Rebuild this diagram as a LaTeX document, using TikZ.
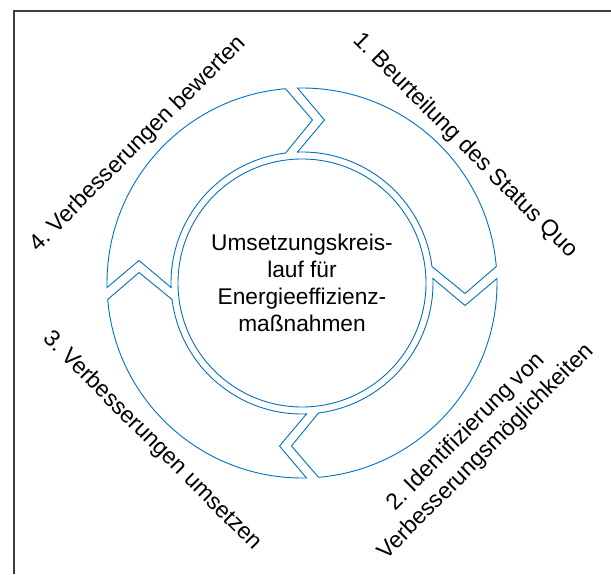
\documentclass[tikz,border=0pt]{standalone}
\usepackage{fontspec}
\setmainfont{Liberation Sans}
\frenchspacing
\definecolor{cycleblue}{RGB}{0,112,192}
\definecolor{framegray}{RGB}{60,60,60}
\tikzset{
  bandline/.style={draw=cycleblue, line width=0.9pt, line join=miter},
  labeltext/.style={font=\fontsize{23}{28.5}\selectfont, inner sep=0pt},
  framestroke/.style={draw=framegray, line width=1.3pt}
}
\begin{document}
\begin{tikzpicture}[x=1pt,y=1pt]
\useasboundingbox (0,0) rectangle (611,574);
% frame (left and top edges)
\draw[framestroke] (14,0) -- (14,563) -- (611,563);
\coordinate (C) at (302,291);
% four arrow segments of the cycle
\foreach \k in {0,1,2,3}{
  \begin{scope}[shift={(C)}, rotate=-90*\k]
    \path[bandline] (91.32:195pt) arc[start angle=91.32, end angle=4.854, radius=195pt]
      -- (163pt,-10.5pt) -- (7.236:131pt)
      arc[start angle=7.236, end angle=91.97, radius=131pt]
      -- (22.5pt,163pt) -- cycle;
  \end{scope}
}
% inner circle
\draw[bandline] (C) circle[radius=124pt];
\node[labeltext, align=center, font=\fontsize{22.7}{26.8}\selectfont] (centre) at (C)
  {Umsetzungskreis-\\lauf für\\Energieeffizienz-\\maßnahmen};
% step labels
\node[labeltext, rotate=-45] (l1) at (465,428) {1. Beurteilung des Status Quo};
\node[labeltext, rotate=45, align=center] (l2) at (476,132)
  {2. Identifizierung von\\Verbesserungsmöglichkeiten};
\node[labeltext, rotate=-45] (l3) at (152,133) {3. Verbesserungen umsetzen};
\node[labeltext, rotate=45] (l4) at (138,430) {4. Verbesserungen bewerten};
\end{tikzpicture}
\end{document}
